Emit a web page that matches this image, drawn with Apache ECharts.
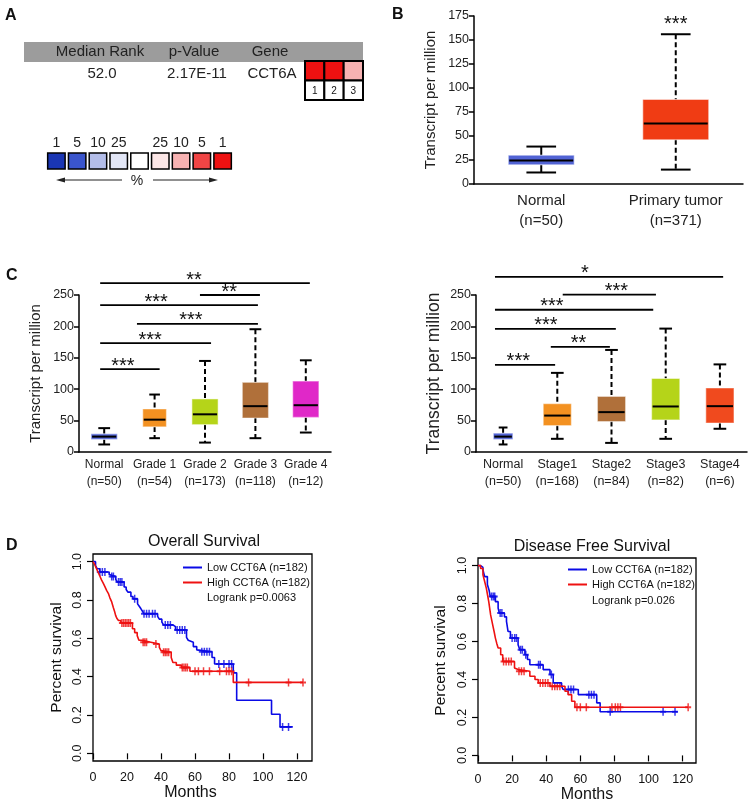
<!DOCTYPE html>
<html><head><meta charset="utf-8">
<script src="https://cdn.jsdelivr.net/npm/echarts@6/dist/echarts.min.js"></script>
<style>html,body{margin:0;padding:0;background:#fff}#c{width:753px;height:808px}</style>
</head><body><div id="c"></div>
<script>
// ================= DATA =================
// Panel A
const aHeaders = ['Median Rank', 'p-Value', 'Gene'];
const aRow = ['52.0', '2.17E-11', 'CCT6A'];
const aDatasets = ['1', '2', '3'];
const aDatasetBins = [8, 8, 6];          // percentile bin of each dataset (index into legend)
const aLegendLabels = ['1', '5', '10', '25', '', '25', '10', '5', '1'];
const aLegendBins = [0, 1, 2, 3, 4, 5, 6, 7, 8];

// Panel B  [min, Q1, median, Q3, max]
const bCats = ['Normal\n(n=50)', 'Primary tumor\n(n=371)'];
const bBoxes = [[12, 20, 24.5, 30, 39], [15, 46, 63, 88, 156]];
const bSig = [[1, 1, 163, 1]];
const bSigLabels = ['***'];

// Panel C (grade)
const c1Cats = ['Normal\n(n=50)', 'Grade 1\n(n=54)', 'Grade 2\n(n=173)', 'Grade 3\n(n=118)', 'Grade 4\n(n=12)'];
const c1Boxes = [[12, 20, 24.5, 29, 38], [22, 40, 51.5, 68.5, 91.5], [15, 43.5, 60, 84.5, 145],
                 [22, 54, 73, 111, 195.5], [31, 55, 74.5, 113, 146]];
// [from, to, level, labelPos]
const c1Sig = [[-0.08, 1.1, 132, 0.37], [-0.08, 2.12, 173.5, 0.91], [0.65, 3.05, 204, 1.72],
               [-0.08, 3.05, 234, 1.03], [1.9, 3.09, 250, 2.48], [-0.08, 4.08, 269, 1.78]];
const c1SigLabels = ['***', '***', '***', '***', '**', '**'];

// Panel C (stage)
const c2Cats = ['Normal\n(n=50)', 'Stage1\n(n=168)', 'Stage2\n(n=84)', 'Stage3\n(n=82)', 'Stage4\n(n=6)'];
const c2Boxes = [[12, 20, 24.5, 30, 39], [21, 42, 58, 77, 126], [14.5, 48.5, 63.5, 88.5, 162.5],
                 [21, 51, 72.5, 117, 196.5], [37, 46, 73, 102, 139.5]];
const c2Sig = [[-0.15, 0.96, 138.6, 0.28], [0.88, 1.97, 167.4, 1.39], [-0.15, 2.08, 196, 0.79],
               [-0.15, 2.77, 226.5, 0.9], [1.1, 2.82, 250.5, 2.09], [-0.15, 4.06, 279, 1.51]];
const c2SigLabels = ['***', '**', '***', '***', '***', '*'];

// Panel D  Kaplan-Meier steps [months, survival]
const osLow = [[0,1.0],[1.5,0.98],[2.5,0.963],[4,0.946],[9.5,0.933],[10.5,0.923],[13.4,0.907],[14.3,0.894],
  [18.3,0.868],[19.5,0.855],[20.5,0.841],[22.3,0.818],[23.5,0.806],[26.2,0.78],[27.2,0.767],[28.2,0.754],
  [29.2,0.74],[29.8,0.728],[38,0.715],[39,0.70],[40.5,0.685],[41.5,0.67],[47,0.661],[48.5,0.644],
  [55,0.605],[56,0.59],[57,0.58],[59,0.557],[61,0.54],[62,0.53],[70,0.5],[71.5,0.466],[82.5,0.42],
  [84.5,0.277],[105,0.204],[110,0.138],[117.5,0.138]];
const osLowCens = [[4,0.946],[5.5,0.946],[7,0.946],[11,0.923],[12,0.923],[15,0.894],[16,0.894],[17,0.894],
  [24.5,0.806],[30,0.728],[31.5,0.728],[33,0.728],[35,0.728],[36.5,0.728],[42.5,0.67],[44,0.67],[45.5,0.67],
  [49.5,0.644],[51,0.644],[52.5,0.644],[54,0.644],[64,0.53],[65.5,0.53],[67,0.53],[68.5,0.53],
  [74,0.466],[77,0.466],[80,0.466],[81.5,0.466],[111.5,0.138],[115,0.138]];
const osHigh = [[0,1.0],[1,0.985],[2,0.965],[3,0.945],[4,0.925],[5,0.905],[6,0.888],[7,0.87],[8,0.85],
  [9,0.835],[10,0.81],[11,0.79],[12,0.76],[12.7,0.74],[13.3,0.72],[14,0.705],[15,0.693],[16.4,0.68],
  [23.2,0.65],[24.5,0.63],[26,0.614],[27,0.59],[29,0.58],[34,0.57],[39,0.553],[40,0.536],[41,0.527],
  [46,0.50],[47,0.474],[49,0.46],[52,0.448],[57,0.428],[82.5,0.37],[123.5,0.37]];
const osHighCens = [[17,0.68],[18,0.68],[19,0.68],[20,0.68],[21,0.68],[22,0.68],[29.5,0.58],[30.5,0.58],
  [31.5,0.58],[37,0.57],[41.5,0.527],[42.5,0.527],[43.5,0.527],[44.5,0.527],[52.5,0.448],[53.5,0.448],
  [54.5,0.448],[55.5,0.448],[60,0.428],[62,0.428],[65,0.428],[68.5,0.428],[74.5,0.428],[78.5,0.428],
  [80,0.428],[81.5,0.428],[91.5,0.37],[115,0.37],[123.5,0.37]];
const dfsLow = [[0,1.0],[1.5,0.99],[2.9,0.977],[3.9,0.942],[5.5,0.9],[6.5,0.87],[7.2,0.837],[10.2,0.81],
  [11.8,0.776],[12.5,0.75],[15.5,0.73],[16.7,0.706],[17.6,0.653],[19,0.618],[23.5,0.583],[24.5,0.557],
  [27.5,0.53],[29,0.505],[30.4,0.478],[38.2,0.452],[42.2,0.426],[44.1,0.382],[49,0.364],[50,0.347],
  [58.8,0.32],[69.6,0.277],[71.6,0.23],[117,0.23]];
const dfsLowCens = [[8,0.837],[9,0.837],[9.8,0.837],[13,0.75],[14,0.75],[20,0.618],[21.5,0.618],[22.5,0.618],
  [25,0.557],[26,0.557],[28,0.53],[35.5,0.478],[36.5,0.478],[43,0.426],[53,0.347],[54.5,0.347],[56,0.347],
  [65,0.32],[66.5,0.32],[68,0.32],[77.5,0.23],[108.5,0.23],[115.5,0.23]];
const dfsHigh = [[0,1.0],[1.5,0.985],[2.9,0.951],[3.8,0.92],[4.9,0.88],[5.6,0.845],[6.3,0.81],[7.4,0.74],
  [8.1,0.71],[8.8,0.68],[9.5,0.65],[10.2,0.618],[11,0.59],[11.8,0.566],[13.3,0.53],[14.5,0.495],
  [21.4,0.46],[22.4,0.452],[23.5,0.443],[30.4,0.417],[33.4,0.40],[35.3,0.382],[42.2,0.364],[51,0.338],
  [52.8,0.32],[54.9,0.285],[56.8,0.254],[123.2,0.254]];
const dfsHighCens = [[15,0.495],[16.5,0.495],[18,0.495],[19.5,0.495],[24,0.443],[25.5,0.443],[27,0.443],
  [36.5,0.382],[38,0.382],[39.5,0.382],[41,0.382],[43.5,0.364],[45,0.364],[46.5,0.364],[48,0.364],
  [58,0.254],[60,0.254],[63.5,0.254],[78.5,0.254],[80.5,0.254],[82,0.254],[83.5,0.254],[123.2,0.254]];
const kmTicksX = [0, 20, 40, 60, 80, 100, 120];
const kmTicksY = [0, 0.2, 0.4, 0.6, 0.8, 1.0];
const lowName = 'Low CCT6A (n=182)';
const highName = 'High CCT6A (n=182)';
const osP = 'Logrank p=0.0063';
const dfsP = 'Logrank p=0.026';

// ================= STYLE =================
const FONT = "'Liberation Sans', Arial, Helvetica, sans-serif";
const NARROW = "'Liberation Sans Narrow', 'Arial Narrow', 'Liberation Sans', Arial, sans-serif";
const PALETTE = ['#1a36b4', '#3a55cc', '#b3bde9', '#e2e6f6', '#ffffff', '#fbe6e6', '#f7b2b2', '#f04545', '#ee1111'];
const BLUE_N = '#5163d4';
const bColors = [BLUE_N, '#f03c14'];
const bDash = [false, true];
const bRatio = [0.49, 0.49];
const c1Colors = [BLUE_N, '#f39121', '#b5d419', '#b0703a', '#e028c8'];
const c1Dash = [false, true, true, true, true];
const c1Ratio = [0.52, 0.47, 0.52, 0.52, 0.52];
const c2Colors = [BLUE_N, '#f39121', '#b0703a', '#b5d419', '#f04a1e'];
const c2Dash = [false, true, true, true, true];
const c2Ratio = [0.36, 0.52, 0.52, 0.52, 0.52];
const KM_BLUE = '#0a0ae6', KM_RED = '#ee1111';

// ================= BUILD =================
const chart = echarts.init(document.getElementById('c'), null, {renderer: 'canvas', width: 753, height: 808});

function boxSeries(idx, boxes, colors, dashed, ratios) {
  return {
    type: 'custom', xAxisIndex: idx, yAxisIndex: idx, clip: false, silent: true,
    data: boxes.map((b, i) => [i].concat(b)),
    encode: {x: 0, y: [1, 2, 3, 4, 5]},
    renderItem: (params, api) => {
      const i = api.value(0);
      const cx = api.coord([i, 0])[0];
      const bw = api.size([1, 0])[0] * ratios[i];
      const Y = k => api.coord([i, api.value(k)])[1];
      const yLo = Y(1), yQ1 = Y(2), yMed = Y(3), yQ3 = Y(4), yHi = Y(5);
      const cap = bw * 0.45;
      const dash = dashed[i] ? [5, 3] : null;
      const ls = {stroke: '#000', lineWidth: 2};
      return {type: 'group', children: [
        {type: 'line', shape: {x1: cx, y1: yHi, x2: cx, y2: yQ3}, style: Object.assign({}, ls, {lineDash: dash})},
        {type: 'line', shape: {x1: cx, y1: yQ1, x2: cx, y2: yLo}, style: Object.assign({}, ls, {lineDash: dash})},
        {type: 'line', shape: {x1: cx - cap / 2, y1: yHi, x2: cx + cap / 2, y2: yHi}, style: ls},
        {type: 'line', shape: {x1: cx - cap / 2, y1: yLo, x2: cx + cap / 2, y2: yLo}, style: ls},
        {type: 'rect', shape: {x: cx - bw / 2, y: yQ3, width: bw, height: yQ1 - yQ3},
          style: {fill: colors[i], stroke: 'rgba(255,255,255,0.45)', lineWidth: 1.2}},
        {type: 'line', shape: {x1: cx - bw / 2 + 1, y1: yMed, x2: cx + bw / 2 - 1, y2: yMed}, style: {stroke: '#000', lineWidth: 2}}
      ]};
    }
  };
}

function sigSeries(idx, sig, labels) {
  return {
    type: 'custom', xAxisIndex: idx, yAxisIndex: idx, clip: false, silent: true,
    data: sig, encode: {x: 3, y: 2},
    renderItem: (params, api) => {
      const c0 = api.coord([0, api.value(2)]);
      const bw = api.size([1, 0])[0];
      const x0 = c0[0] + api.value(0) * bw, x1 = c0[0] + api.value(1) * bw, y = c0[1];
      const tx = c0[0] + api.value(3) * bw;
      const ch = [];
      if (x1 > x0) ch.push({type: 'line', shape: {x1: x0, y1: y, x2: x1, y2: y}, style: {stroke: '#000', lineWidth: 1.8}});
      ch.push({type: 'text', style: {text: labels[params.dataIndex], x: tx, y: y - 3, align: 'center',
        verticalAlign: 'middle', fontSize: 20, fill: '#111', fontFamily: FONT}});
      return {type: 'group', children: ch};
    }
  };
}

const crossPath = 'path://M-0.25,-1H0.25V-0.25H1V0.25H0.25V1H-0.25V0.25H-1V-0.25H-0.25Z';
function kmLine(idx, name, data, color) {
  return {type: 'line', name: name, xAxisIndex: idx, yAxisIndex: idx, data: data, step: 'end',
    showSymbol: false, symbol: 'none', lineStyle: {color: color, width: 1.6}, itemStyle: {color: color}, silent: true};
}
function kmCens(idx, data, color) {
  return {type: 'scatter', name: 'cens', xAxisIndex: idx, yAxisIndex: idx, data: data, symbol: crossPath,
    symbolSize: [6, 8], itemStyle: {color: color}, silent: true};
}

const axLine = {show: true, lineStyle: {color: '#000', width: 1.5}};
const axTick = {show: true, length: 5, lineStyle: {color: '#000', width: 1.5}};
const hidden = {show: false};

function boxY(idx, max, interval, nameSize, nameGap) {
  return {gridIndex: idx, type: 'value', min: 0, max: max, interval: interval,
    axisLine: axLine, axisTick: axTick, splitLine: hidden,
    axisLabel: {fontSize: 12.5, color: '#222', margin: 5},
    name: 'Transcript per million', nameLocation: 'middle', nameGap: nameGap,
    nameTextStyle: {fontSize: nameSize, color: '#222'}};
}
function boxX(idx, cats, size, lh, margin, family) {
  return {gridIndex: idx, type: 'category', data: cats, axisLine: axLine, axisTick: hidden,
    axisLabel: {fontSize: size, lineHeight: lh, color: '#222', margin: margin, fontFamily: family, interval: 0}};
}
function kmX(idx, max, namePad) {
  return {gridIndex: idx, type: 'value', min: 0, max: max, axisLine: hidden, splitLine: hidden,
    axisTick: {show: true, length: 6, lineStyle: {color: '#000', width: 1.2}, customValues: kmTicksX},
    axisLabel: {fontSize: 12.5, color: '#111', margin: 10, customValues: kmTicksX},
    name: 'Months', nameLocation: 'middle', nameGap: 22,
    nameTextStyle: {fontSize: 16, color: '#111', padding: namePad}};
}
function kmY(idx, gap) {
  return {gridIndex: idx, type: 'value', min: -0.04, max: 1.04, axisLine: hidden, splitLine: hidden,
    axisTick: {show: true, length: 6, lineStyle: {color: '#000', width: 1.2}, customValues: kmTicksY},
    axisLabel: {fontSize: 12.5, color: '#111', margin: 9, rotate: 90, customValues: kmTicksY,
      formatter: v => Number(v).toFixed(1)},
    name: 'Percent survival', nameLocation: 'middle', nameGap: gap,
    nameTextStyle: {fontSize: 15.5, color: '#111'}};
}

const option = {
  animation: false,
  backgroundColor: '#fff',
  textStyle: {fontFamily: FONT},
  title: [
    {text: 'A', left: 5, top: 8, padding: 0, textStyle: {fontSize: 16, fontWeight: 'bold', color: '#111'}},
    {text: 'B', left: 392, top: 7, padding: 0, textStyle: {fontSize: 16, fontWeight: 'bold', color: '#111'}},
    {text: 'C', left: 6, top: 268, padding: 0, textStyle: {fontSize: 16, fontWeight: 'bold', color: '#111'}},
    {text: 'D', left: 6, top: 538, padding: 0, textStyle: {fontSize: 16, fontWeight: 'bold', color: '#111'}},
    {text: 'Overall Survival', left: 204, top: 534, padding: 0, textAlign: 'center',
      textStyle: {fontSize: 16, fontWeight: 'normal', color: '#111'}},
    {text: 'Disease Free Survival', left: 592, top: 539, padding: 0, textAlign: 'center',
      textStyle: {fontSize: 16, fontWeight: 'normal', color: '#111'}}
  ],
  legend: [
    {data: [lowName, highName], orient: 'vertical', left: 183, top: 561, padding: 0, itemGap: 2,
      itemWidth: 19, itemHeight: 2, icon: 'rect', selectedMode: false,
      textStyle: {fontSize: 11, lineHeight: 13, color: '#111', padding: [0, 0, 0, 0]}},
    {data: [lowName, highName], orient: 'vertical', left: 568, top: 563, padding: 0, itemGap: 2,
      itemWidth: 19, itemHeight: 2, icon: 'rect', selectedMode: false,
      textStyle: {fontSize: 11, lineHeight: 13, color: '#111'}}
  ],
  grid: [
    {left: 305, top: 61, width: 58, height: 39},
    {left: 46, top: 153, width: 187, height: 16},
    {left: 474, top: 16, width: 269, height: 168},
    {left: 79, top: 295, width: 252, height: 157},
    {left: 476, top: 295, width: 271, height: 157},
    {left: 93, top: 554, width: 219, height: 207, show: true, borderColor: '#000', borderWidth: 1.3},
    {left: 478, top: 558, width: 218, height: 205, show: true, borderColor: '#000', borderWidth: 1.3}
  ],
  xAxis: [
    {gridIndex: 0, type: 'category', data: aDatasets, show: false},
    {gridIndex: 1, type: 'category', data: aLegendBins.map(String), position: 'top', axisLine: hidden, axisTick: hidden,
      axisLabel: {fontSize: 14, color: '#222', margin: 3, interval: 0, formatter: (v, i) => aLegendLabels[i]}},
    boxX(2, bCats, 15, 20, 7, FONT),
    boxX(3, c1Cats, 12, 17, 4, NARROW),
    boxX(4, c2Cats, 12.5, 17, 4, FONT),
    kmX(5, 128.8, [0, 24, 0, 0]),
    kmX(6, 127.8, [0, 0, 0, 0])
  ],
  yAxis: [
    {gridIndex: 0, type: 'category', data: ['top', 'bottom'], inverse: true, show: false},
    {gridIndex: 1, type: 'category', data: ['bins'], show: false},
    boxY(2, 175, 25, 15, 36),
    boxY(3, 250, 50, 15, 36),
    boxY(4, 250, 50, 17.5, 33),
    kmY(5, 28),
    kmY(6, 29)
  ],
  graphic: [
    {type: 'rect', shape: {x: 24, y: 42, width: 339, height: 20}, style: {fill: '#9c9c9c'}, silent: true},
    {type: 'text', style: {text: aHeaders[0], x: 100, y: 52, align: 'center', verticalAlign: 'middle', fontSize: 15, fill: '#222', fontFamily: FONT}},
    {type: 'text', style: {text: aHeaders[1], x: 194, y: 52, align: 'center', verticalAlign: 'middle', fontSize: 15, fill: '#222', fontFamily: FONT}},
    {type: 'text', style: {text: aHeaders[2], x: 270, y: 52, align: 'center', verticalAlign: 'middle', fontSize: 15, fill: '#222', fontFamily: FONT}},
    {type: 'text', style: {text: aRow[0], x: 102, y: 74, align: 'center', verticalAlign: 'middle', fontSize: 15, fill: '#222', fontFamily: FONT}},
    {type: 'text', style: {text: aRow[1], x: 197, y: 74, align: 'center', verticalAlign: 'middle', fontSize: 15, fill: '#222', fontFamily: FONT}},
    {type: 'text', style: {text: aRow[2], x: 272, y: 74, align: 'center', verticalAlign: 'middle', fontSize: 15, fill: '#222', fontFamily: FONT}},
    {type: 'line', shape: {x1: 122, y1: 180, x2: 62, y2: 180}, style: {stroke: '#222', lineWidth: 1.2}},
    {type: 'polygon', shape: {points: [[56, 180], [65, 177.5], [65, 182.5]]}, style: {fill: '#222'}},
    {type: 'line', shape: {x1: 153, y1: 180, x2: 212, y2: 180}, style: {stroke: '#222', lineWidth: 1.2}},
    {type: 'polygon', shape: {points: [[218, 180], [209, 177.5], [209, 182.5]]}, style: {fill: '#222'}},
    {type: 'text', style: {text: '%', x: 137, y: 181, align: 'center', verticalAlign: 'middle', fontSize: 14, fill: '#222', fontFamily: FONT}},
    {type: 'text', style: {text: osP, x: 207, y: 598, align: 'left', verticalAlign: 'middle', fontSize: 11, fill: '#111', fontFamily: FONT}},
    {type: 'text', style: {text: dfsP, x: 592, y: 601, align: 'left', verticalAlign: 'middle', fontSize: 11, fill: '#111', fontFamily: FONT}}
  ],
  series: [
    // Panel A dataset cells
    {type: 'custom', xAxisIndex: 0, yAxisIndex: 0, clip: false, silent: true,
      data: aDatasets.map((d, i) => [i, 0]).concat(aDatasets.map((d, i) => [i, 1])),
      renderItem: (params, api) => {
        const col = api.value(0), row = api.value(1);
        const c = api.coord([col, row]), s = api.size([1, 1]);
        const ch = [{type: 'rect', shape: {x: c[0] - s[0] / 2, y: c[1] - s[1] / 2, width: s[0], height: s[1]},
          style: {fill: row === 0 ? PALETTE[aDatasetBins[col]] : '#fff', stroke: '#000', lineWidth: 2}}];
        if (row === 1) ch.push({type: 'text', style: {text: aDatasets[col], x: c[0], y: c[1] + 0.5, align: 'center',
          verticalAlign: 'middle', fontSize: 10, fill: '#111', fontFamily: FONT}});
        return {type: 'group', children: ch};
      }},
    // Panel A legend cells
    {type: 'custom', xAxisIndex: 1, yAxisIndex: 1, clip: false, silent: true,
      data: aLegendBins.map(b => [b, 0]),
      renderItem: (params, api) => {
        const b = api.value(0);
        const c = api.coord([b, 0]), s = api.size([1, 1]);
        const w = s[0] * 0.84;
        return {type: 'rect', shape: {x: c[0] - w / 2, y: c[1] - s[1] / 2, width: w, height: s[1]},
          style: {fill: PALETTE[b], stroke: '#000', lineWidth: 1.5}};
      }},
    boxSeries(2, bBoxes, bColors, bDash, bRatio),
    sigSeries(2, bSig, bSigLabels),
    boxSeries(3, c1Boxes, c1Colors, c1Dash, c1Ratio),
    sigSeries(3, c1Sig, c1SigLabels),
    boxSeries(4, c2Boxes, c2Colors, c2Dash, c2Ratio),
    sigSeries(4, c2Sig, c2SigLabels),
    kmLine(5, lowName, osLow, KM_BLUE),
    kmLine(5, highName, osHigh, KM_RED),
    kmCens(5, osLowCens, KM_BLUE),
    kmCens(5, osHighCens, KM_RED),
    kmLine(6, lowName, dfsLow, KM_BLUE),
    kmLine(6, highName, dfsHigh, KM_RED),
    kmCens(6, dfsLowCens, KM_BLUE),
    kmCens(6, dfsHighCens, KM_RED)
  ]
};
chart.setOption(option);
</script>
</body></html>
